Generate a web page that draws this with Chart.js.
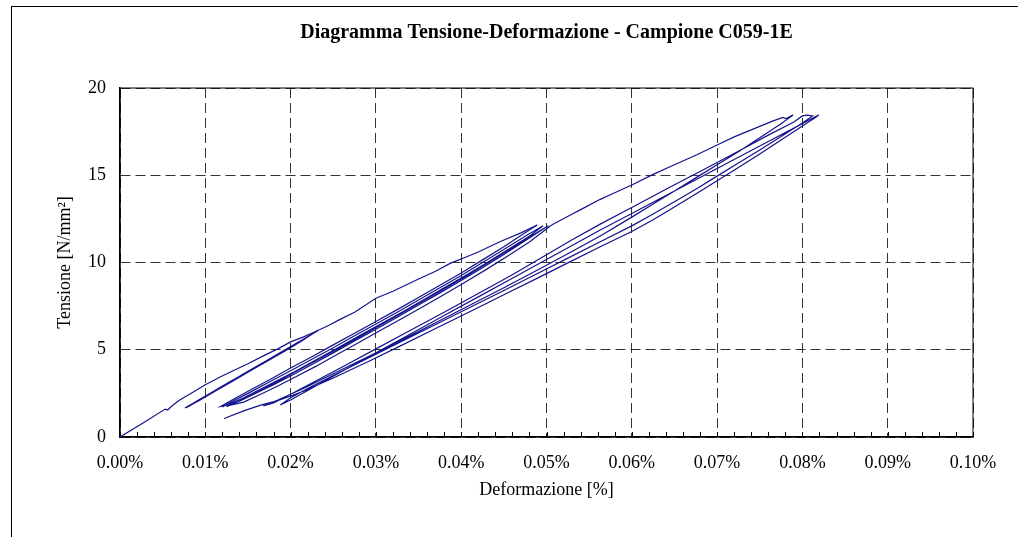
<!DOCTYPE html>
<html>
<head>
<meta charset="utf-8">
<script src="https://cdn.jsdelivr.net/npm/chart.js@4"></script>
<style>
  html, body { margin: 0; padding: 0; background: #fff; overflow: hidden; }
  #wrap { position: relative; width: 1018px; height: 537px; }
  #frame { position: absolute; left: 11px; top: 6px; width: 2000px; height: 2000px;
           border-left: 1.5px solid #000; border-top: 1.5px solid #000; pointer-events: none; }
  canvas { position: absolute; left: 0; top: 0; }
</style>
</head>
<body>
<div id="wrap">
  <canvas id="chart" width="1018" height="537"></canvas>
  <div id="frame"></div>
</div>
<script>
// [deformazione %, tensione N/mm2]
const firstLoading = [[0,0],[0.0027,0.80],[0.0053,1.60],[0.0056,1.55],[0.0060,1.75],[0.0070,2.12],[0.0085,2.55],
  [0.0100,3.00],[0.0118,3.45],[0.0135,3.85],[0.0150,4.20],[0.0168,4.65],[0.0185,5.05],[0.0200,5.45],[0.0216,5.75],[0.0232,6.10]];

const cycles6 = [
  [0.0232,6.10],[0.0212,5.52],[0.0192,4.95],[0.0172,4.38],[0.0152,3.82],[0.0132,3.25],[0.0112,2.68],[0.0092,2.12],[0.0077,1.68],
  [0.0080,1.78],[0.0098,2.28],[0.0118,2.86],[0.0138,3.42],[0.0158,3.98],[0.0178,4.55],[0.0198,5.12],[0.0218,5.68],[0.0231,6.08],
  [0.0210,5.45],[0.0190,4.88],[0.0170,4.32],[0.0150,3.76],[0.0130,3.18],[0.0110,2.62],[0.0090,2.05],[0.0076,1.66],
  [0.0079,1.74],[0.0100,2.32],[0.0120,2.90],[0.0140,3.47],[0.0160,4.04],[0.0180,4.60],[0.0200,5.18],[0.0220,5.74],[0.0232,6.12],
  [0.0213,5.50],[0.0193,4.92],[0.0173,4.36],[0.0153,3.80],[0.0133,3.22],[0.0113,2.66],[0.0093,2.10],[0.0078,1.70],
  [0.0081,1.76],[0.0101,2.33],[0.0121,2.92],[0.0141,3.48],[0.0161,4.05],[0.0181,4.62],[0.0201,5.20],[0.0221,5.76],[0.0232,6.10]];

const secondLoading = [[0.0232,6.10],[0.0245,6.40],[0.0258,6.74],[0.0275,7.15],[0.0300,7.95],[0.0320,8.35],[0.0350,9.05],
  [0.0370,9.50],[0.0387,9.95],[0.0405,10.30],[0.0420,10.60],[0.0446,11.20],[0.0470,11.70],[0.0489,12.15]];

const cycles12 = [
  [0.0489,12.15],[0.0470,11.55],[0.0450,10.90],[0.0425,10.15],[0.0400,9.40],[0.0375,8.70],[0.0350,8.00],[0.0325,7.30],[0.0300,6.62],
  [0.0275,5.95],[0.0250,5.28],[0.0225,4.60],[0.0200,3.95],[0.0178,3.35],[0.0155,2.75],[0.0135,2.22],[0.0118,1.75],
  [0.0125,1.82],[0.0145,2.25],[0.0165,2.75],[0.0185,3.25],[0.0205,3.75],[0.0230,4.42],[0.0255,5.10],[0.0280,5.78],[0.0305,6.46],
  [0.0330,7.14],[0.0355,7.84],[0.0380,8.55],[0.0405,9.26],[0.0430,9.98],[0.0455,10.74],[0.0480,11.50],[0.0496,12.10],
  [0.0475,11.50],[0.0450,10.75],[0.0425,10.00],[0.0400,9.25],[0.0375,8.55],[0.0350,7.85],[0.0325,7.15],[0.0300,6.48],[0.0275,5.80],
  [0.0250,5.12],[0.0225,4.45],[0.0200,3.80],[0.0175,3.15],[0.0150,2.50],[0.0132,2.05],[0.0120,1.72],
  [0.0122,1.78],[0.0140,2.05],[0.0160,2.52],[0.0180,3.00],[0.0200,3.50],[0.0225,4.15],[0.0250,4.82],[0.0275,5.50],[0.0300,6.18],
  [0.0325,6.86],[0.0350,7.56],[0.0375,8.26],[0.0400,8.97],[0.0425,9.70],[0.0450,10.46],[0.0475,11.24],[0.0502,12.10],
  [0.0480,11.45],[0.0455,10.70],[0.0430,9.95],[0.0405,9.20],[0.0380,8.50],[0.0355,7.80],[0.0330,7.10],[0.0305,6.40],[0.0280,5.72],
  [0.0255,5.05],[0.0230,4.38],[0.0205,3.72],[0.0180,3.05],[0.0155,2.42],[0.0135,1.95],[0.0125,1.74],
  [0.0127,1.80],[0.0145,2.00],[0.0165,2.45],[0.0185,2.92],[0.0205,3.42],[0.0230,4.06],[0.0255,4.74],[0.0280,5.42],[0.0305,6.10],
  [0.0330,6.78],[0.0355,7.47],[0.0380,8.17],[0.0405,8.88],[0.0430,9.62],[0.0455,10.38],[0.0480,11.18],[0.0506,12.15]];

const thirdLoading = [[0.0506,12.15],[0.0528,12.72],[0.0539,13.00],[0.0563,13.62],[0.0580,14.00],[0.0600,14.44],[0.0625,15.05],
  [0.0650,15.60],[0.0675,16.15],[0.0700,16.73],[0.0720,17.20],[0.0745,17.70],[0.0765,18.10],[0.0777,18.32],[0.0781,18.25],[0.0789,18.45]];

const cycles18 = [
  [0.0789,18.45],[0.0775,17.95],[0.0750,17.15],[0.0725,16.35],[0.0700,15.60],[0.0675,14.85],[0.0650,14.10],[0.0625,13.35],[0.0600,12.60],
  [0.0563,11.52],[0.0525,10.50],[0.0490,9.58],[0.0450,8.55],[0.0410,7.55],[0.0370,6.55],[0.0330,5.55],[0.0290,4.58],[0.0250,3.62],
  [0.0215,2.78],[0.0185,2.12],[0.0168,1.78],
  [0.0180,1.95],[0.0200,2.45],[0.0230,3.22],[0.0260,4.00],[0.0300,5.05],[0.0340,6.10],[0.0380,7.15],[0.0420,8.22],[0.0460,9.30],
  [0.0500,10.45],[0.0530,11.30],[0.0563,12.20],[0.0600,13.15],[0.0640,14.20],[0.0680,15.22],[0.0720,16.25],[0.0760,17.30],
  [0.0790,18.05],[0.0800,18.40],[0.0805,18.45],[0.0812,18.40],
  [0.0800,18.00],[0.0775,17.22],[0.0750,16.45],[0.0725,15.70],[0.0700,14.95],[0.0675,14.20],[0.0650,13.48],[0.0625,12.78],[0.0600,12.10],
  [0.0563,11.19],[0.0525,10.25],[0.0490,9.38],[0.0450,8.40],[0.0410,7.42],[0.0370,6.45],[0.0330,5.48],[0.0290,4.50],[0.0250,3.52],
  [0.0220,2.78],[0.0200,2.25],[0.0188,1.84],
  [0.0200,2.12],[0.0230,2.94],[0.0260,3.75],[0.0300,4.82],[0.0340,5.89],[0.0380,6.96],[0.0420,8.03],[0.0460,9.10],[0.0500,10.17],
  [0.0530,10.97],[0.0563,11.86],[0.0600,12.81],[0.0640,13.84],[0.0680,14.87],[0.0720,15.90],[0.0760,16.93],[0.0790,17.70],
  [0.0810,18.22],[0.0819,18.45],
  [0.0815,18.30],[0.0800,17.82],[0.0775,17.02],[0.0750,16.22],[0.0725,15.45],[0.0700,14.68],[0.0675,13.92],[0.0650,13.18],[0.0625,12.45],
  [0.0600,11.78],[0.0563,10.90],[0.0525,9.98],[0.0490,9.12],[0.0450,8.15],[0.0410,7.18],[0.0370,6.22],[0.0330,5.25],[0.0290,4.30],
  [0.0250,3.38],[0.0215,2.62],[0.0185,2.08],[0.0165,1.83],[0.0145,1.50],[0.0125,1.12],[0.0122,1.05]];

const segments = [firstLoading, cycles6, secondLoading, cycles12, thirdLoading, cycles18];

const lineColor = '#14148c';
const serif = "'Liberation Serif', 'Times New Roman', serif";

// bordo dell'area del grafico e tacche secondarie sull'asse x
const plotFrame = {
  id: 'plotFrame',
  beforeDatasetsDraw(chart) {
    const { ctx, chartArea: a, scales } = chart;
    ctx.save();
    ctx.strokeStyle = '#000';
    ctx.lineWidth = 1;
    ctx.strokeRect(a.left, a.top, a.right - a.left, a.bottom - a.top);
    ctx.beginPath();
    for (let i = 0; i <= 50; i++) {
      const px = Math.round(scales.x.getPixelForValue(i * 0.002)) + 0.5;
      ctx.moveTo(px, a.bottom);
      ctx.lineTo(px, a.bottom - 5);
    }
    ctx.stroke();
    ctx.restore();
  }
};

new Chart(document.getElementById('chart'), {
  type: 'scatter',
  data: {
    datasets: segments.map(seg => ({
      data: seg.map(p => ({ x: p[0], y: p[1] })),
      showLine: true,
      borderColor: lineColor,
      borderWidth: 1.2,
      pointRadius: 0,
      tension: 0
    }))
  },
  options: {
    responsive: false,
    animation: false,
    layout: { padding: { left: 0, right: 45, top: 0, bottom: 0 } },
    plugins: {
      legend: { display: false },
      tooltip: { enabled: false },
      title: {
        display: true,
        fullSize: false,
        text: 'Diagramma Tensione-Deformazione - Campione C059-1E',
        color: '#000',
        font: { family: serif, size: 20, weight: 'bold' },
        padding: { top: 21, bottom: 43 }
      }
    },
    scales: {
      x: {
        type: 'linear',
        min: 0,
        max: 0.1,
        afterFit(scale) { scale.height = 100; },
        ticks: {
          stepSize: 0.01,
          padding: 15,
          color: '#000',
          font: { family: serif, size: 18 },
          callback: v => v.toFixed(2) + '%'
        },
        grid: { color: '#333', lineWidth: 1, drawTicks: false },
        border: { display: true, color: '#000', width: 1.5, dash: [10, 5] },
        title: {
          display: true,
          text: 'Deformazione [%]',
          color: '#000',
          font: { family: serif, size: 18 },
          padding: { top: 0, bottom: 36 }
        }
      },
      y: {
        min: 0,
        max: 20,
        afterFit(scale) { scale.width = 120; },
        ticks: {
          stepSize: 5,
          padding: 14,
          color: '#000',
          font: { family: serif, size: 18 }
        },
        grid: { color: '#333', lineWidth: 1, drawTicks: false },
        border: { display: true, color: '#000', width: 1.5, dash: [10, 5] },
        title: {
          display: true,
          text: 'Tensione [N/mm²]',
          color: '#000',
          font: { family: serif, size: 18 },
          padding: { top: 54, bottom: 0 }
        }
      }
    }
  },
  plugins: [plotFrame]
});
</script>
</body>
</html>
